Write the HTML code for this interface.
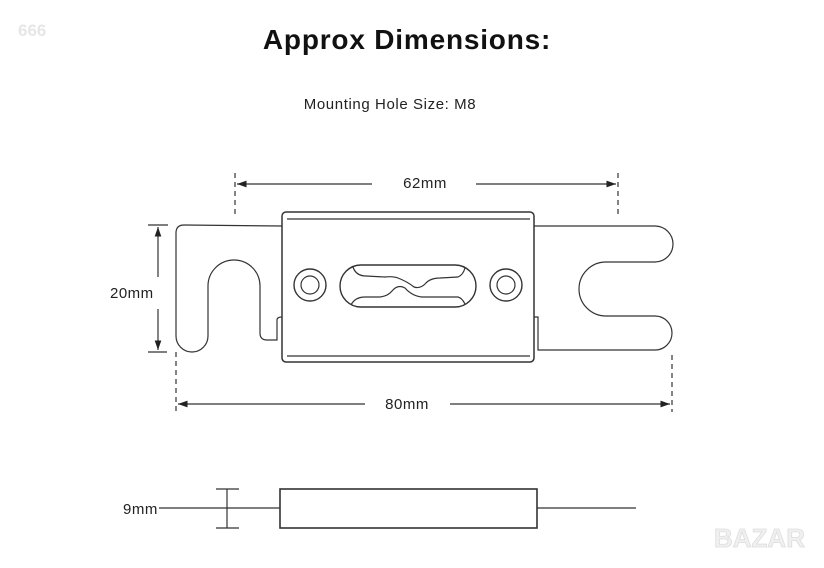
<!DOCTYPE html>
<html><head><style>
body{margin:0;background:#fff;width:824px;height:563px;overflow:hidden;font-family:"Liberation Sans",sans-serif}
</style></head><body>
<svg width="824" height="563" viewBox="0 0 824 563" xmlns="http://www.w3.org/2000/svg">
<defs>
<marker id="a" viewBox="0 0 10 10" refX="10" refY="5" markerWidth="8" markerHeight="8" orient="auto-start-reverse"><path d="M0,1.5 L10,5 L0,8.5z" fill="#222"/></marker>
</defs>
<text x="18" y="36" font-size="17" fill="#e6e6e6" font-weight="bold">666</text>
<text x="407" y="49" font-size="28" font-weight="bold" text-anchor="middle" fill="#111" letter-spacing="0.8">Approx Dimensions:</text>
<text x="390" y="109" font-size="15" text-anchor="middle" fill="#222" letter-spacing="0.6">Mounting Hole Size: M8</text>
<g stroke="#333" stroke-width="1.2" fill="none">
<line x1="235" y1="173" x2="235" y2="216" stroke-dasharray="5,4"/>
<line x1="618" y1="173" x2="618" y2="216" stroke-dasharray="5,4"/>
<line x1="237" y1="184" x2="372" y2="184" marker-start="url(#a)"/>
<line x1="476" y1="184" x2="616" y2="184" marker-end="url(#a)"/>
<line x1="176" y1="352" x2="176" y2="412" stroke-dasharray="5,4"/>
<line x1="672" y1="355" x2="672" y2="412" stroke-dasharray="5,4"/>
<line x1="178" y1="404" x2="365" y2="404" marker-start="url(#a)"/>
<line x1="450" y1="404" x2="670" y2="404" marker-end="url(#a)"/>
<line x1="148" y1="225" x2="168" y2="225"/>
<line x1="148" y1="352" x2="167" y2="352"/>
<line x1="158" y1="227" x2="158" y2="277" marker-start="url(#a)"/>
<line x1="158" y1="309" x2="158" y2="350" marker-end="url(#a)"/>
<path d="M282,226 L184,225 Q176,225 176,233 L176,336 A16,16 0 0 0 208,336 L208,286 A26,26 0 0 1 260,286 L260,333 Q260,340 267,340 L277,340 L277,320 Q277,317 282,317"/>
<path d="M534,226 L655,226 A18,18 0 0 1 655,262 L606,262 A27,27 0 0 0 606,316 L655,316 A17,17 0 0 1 655,350 L538,350 L538,317 L534,317"/>
<rect x="282" y="212" width="252" height="150" rx="4" stroke-width="1.5"/>
<line x1="287" y1="219" x2="530" y2="219"/>
<line x1="287" y1="356" x2="530" y2="356"/>
<circle cx="310" cy="285" r="16" stroke-width="1.4"/><circle cx="310" cy="285" r="9"/>
<circle cx="506" cy="285" r="16" stroke-width="1.4"/><circle cx="506" cy="285" r="9"/>
<rect x="340" y="265" width="136" height="42" rx="21" stroke-width="1.4"/>
<path d="M353,267 Q356,276 366,276 L385,277 Q393,276 398,278 Q408,282 414,287 Q420,289 425,284 Q430,278 440,278 L458,277 Q463,275 465,268"/>
<path d="M351,305 Q355,297 365,297 L380,297 Q388,296 392,291 Q398,284 405,288 Q412,296 422,297 L458,297 Q462,298 465,304"/>
<rect x="280" y="489" width="257" height="39" stroke-width="1.6"/>
<line x1="159" y1="508" x2="280" y2="508"/>
<line x1="537" y1="508" x2="636" y2="508"/>
<line x1="227" y1="489" x2="227" y2="528"/>
<line x1="216" y1="489" x2="239" y2="489"/>
<line x1="216" y1="528" x2="239" y2="528"/>
</g>
<g font-size="15" fill="#222" letter-spacing="0.5">
<text x="425" y="188" text-anchor="middle">62mm</text>
<text x="407" y="409" text-anchor="middle">80mm</text>
<text x="110" y="298">20mm</text>
<text x="123" y="514">9mm</text>
</g>
<text x="714" y="547" font-size="26" font-weight="bold" fill="#f0f0f0" stroke="#ddd" stroke-width="0.8">BAZAR</text>
</svg>
</body></html>
